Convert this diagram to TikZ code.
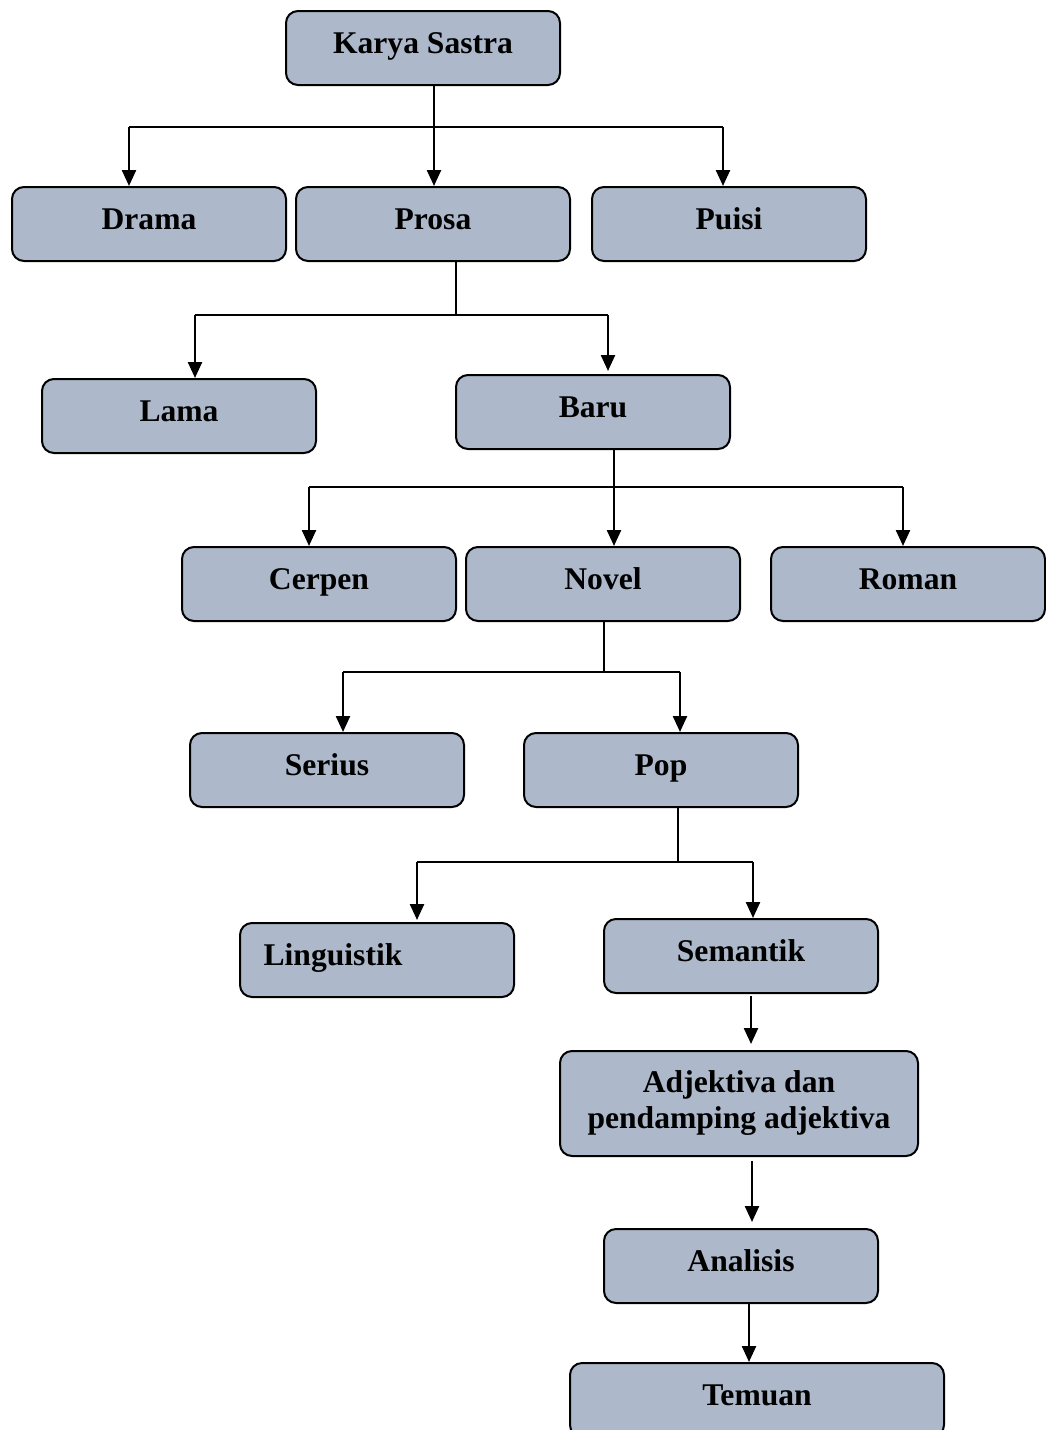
\documentclass[tikz,border=0pt]{standalone}
\usepackage{fontspec}
\setmainfont{Liberation Serif}
\usetikzlibrary{arrows.meta}
\definecolor{boxfill}{HTML}{ADB9CA}

\begin{document}
\begin{tikzpicture}[
  x=0.5pt, y=-0.5pt,
  >={Triangle[length=8pt,width=7pt]},
  box/.style={
    draw=black, fill=boxfill, rounded corners=6pt, line width=1pt,
    minimum width=137pt, minimum height=37pt, align=center,
    text height=0.8em, text depth=0.27em,
    font=\fontsize{15.8}{18}\selectfont\bfseries
  },
  line/.style={line width=1.2pt},
  arr/.style={->, line width=1.2pt},
]
\useasboundingbox (0,0) rectangle (1045,1430);

% Top
\node[box] (ks) at (423,48) {Karya Sastra};

% Jenis karya sastra
\node[box] (drama) at (149,224) {Drama};
\node[box] (prosa) at (433,224) {Prosa};
\node[box] (puisi) at (729,224) {Puisi};

% Prosa
\node[box] (lama) at (179,416) {Lama};
\node[box] (baru) at (593,412) {Baru};

% Prosa baru
\node[box] (cerpen) at (319,584) {Cerpen};
\node[box] (novel)  at (603,584) {Novel};
\node[box] (roman)  at (908,584) {Roman};

% Novel
\node[box] (serius) at (327,770) {Serius};
\node[box] (pop)    at (661,770) {Pop};

% Pop
\node[box] (ling) at (377,960) {Linguistik\hspace*{44pt}};
\node[box] (sem)  at (741,956) {Semantik};

% Alur penelitian
\node[box, text height=, text depth=, minimum width=179pt, minimum height=52.5pt]
  (adj) at (739,1103.5) {Adjektiva dan\\pendamping adjektiva};
\node[box] (ana) at (741,1266) {Analisis};
\node[box, minimum width=187pt] (tem) at (757,1400) {Temuan};

% Karya Sastra -> Drama, Prosa, Puisi
\coordinate (t1) at (434,127);
\coordinate (d1) at (129,127);
\coordinate (p1) at (723,127);
\draw[arr] (ks.south -| t1) -- (prosa.north -| t1);
\draw[line] (d1) -- (p1);
\draw[arr] (d1) -- (d1 |- drama.north);
\draw[arr] (p1) -- (p1 |- puisi.north);

% Prosa -> Lama, Baru
\coordinate (t2) at (456,315);
\coordinate (l2) at (195,315);
\coordinate (b2) at (608,315);
\draw[line] (prosa.south -| t2) -- (t2);
\draw[line] (l2) -- (b2);
\draw[arr] (l2) -- (l2 |- lama.north);
\draw[arr] (b2) -- ([yshift=1.5pt]b2 |- baru.north);

% Baru -> Cerpen, Novel, Roman
\coordinate (t3) at (614,487);
\coordinate (c3) at (309,487);
\coordinate (r3) at (903,487);
\draw[arr] (baru.south -| t3) -- (novel.north -| t3);
\draw[line] (c3) -- (r3);
\draw[arr] (c3) -- (c3 |- cerpen.north);
\draw[arr] (r3) -- (r3 |- roman.north);

% Novel -> Serius, Pop
\coordinate (t4) at (604,672);
\coordinate (s4) at (343,672);
\coordinate (p4) at (680,672);
\draw[line] (novel.south -| t4) -- (t4);
\draw[line] (s4) -- (p4);
\draw[arr] (s4) -- (s4 |- serius.north);
\draw[arr] (p4) -- (p4 |- pop.north);

% Pop -> Linguistik, Semantik
\coordinate (t5) at (678,862);
\coordinate (l5) at (417,862);
\coordinate (m5) at (753,862);
\draw[line] (pop.south -| t5) -- (t5);
\draw[line] (l5) -- (m5);
\draw[arr] (l5) -- ([yshift=1pt]l5 |- ling.north);
\draw[arr] (m5) -- (m5 |- sem.north);

% Semantik -> Adjektiva -> Analisis -> Temuan
\coordinate (a6) at (751,0);
\coordinate (a7) at (752,0);
\coordinate (a8) at (749,0);
\draw[arr, shorten <=1pt, shorten >=3pt] (sem.south -| a6) -- (adj.north -| a6);
\draw[arr, shorten <=2pt, shorten >=3pt] (adj.south -| a7) -- (ana.north -| a7);
\draw[arr] (ana.south -| a8) -- (tem.north -| a8);

\end{tikzpicture}
\end{document}
